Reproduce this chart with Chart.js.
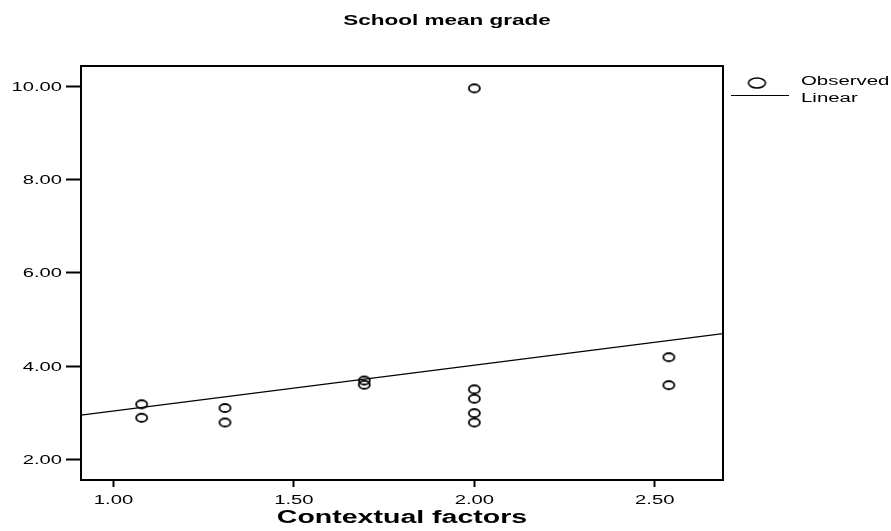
<!DOCTYPE html>
<html><head><meta charset="utf-8">
<script src="https://cdn.jsdelivr.net/npm/chart.js@4"></script>
<style>html,body{margin:0;padding:0;background:#fff;}#wrap{width:891px;height:531px;position:relative;}</style>
</head><body><div id="wrap"><canvas id="c" width="891" height="531"></canvas></div>
<script>
const chartTitle = "School mean grade";
const xTitle = "Contextual factors";
const contextual = [1.078, 1.078, 1.309, 1.309, 1.695, 1.695, 2.00, 2.00, 2.00, 2.00, 2.00, 2.539, 2.539];
const meanGrade  = [3.18, 2.89, 3.10, 2.79, 3.69, 3.60, 9.96, 3.50, 3.30, 2.99, 2.79, 4.19, 3.59];
const linearX = [0.910, 2.689];
const linearY = [2.946, 4.695];
const xTicks = [1.0, 1.5, 2.0, 2.5];
const yTicks = [2, 4, 6, 8, 10];
const legendLabels = ["Observed", "Linear"];

const FONT = "'Liberation Sans', Arial, sans-serif";

function ellipseImg(w, h, lw) {
  const c = document.createElement('canvas');
  c.width = w + 4; c.height = h + 4;
  const g = c.getContext('2d');
  g.strokeStyle = '#000'; g.lineWidth = lw;
  g.beginPath(); g.ellipse(c.width / 2, c.height / 2, w / 2, h / 2, 0, 0, Math.PI * 2); g.stroke();
  return c;
}
const ptImg = ellipseImg(11, 8, 1.8);
const legImg = ellipseImg(17, 10, 1.6);

function stretchText(ctx, text, x, y, align, font, sx) {
  ctx.save();
  ctx.font = font;
  ctx.textAlign = align;
  ctx.textBaseline = 'alphabetic';
  ctx.translate(x, y);
  ctx.scale(sx, 1);
  ctx.fillText(text, 0, 0);
  ctx.restore();
}

const framePlugin = {
  id: 'frame',
  afterDraw(chart) {
    const ctx = chart.ctx, a = chart.chartArea;
    const xs = chart.scales.x, ys = chart.scales.y;
    ctx.save();
    ctx.strokeStyle = '#000'; ctx.lineWidth = 2;
    ctx.beginPath();
    ctx.moveTo(a.left, a.top); ctx.lineTo(a.right, a.top); ctx.lineTo(a.right, a.bottom);
    ctx.stroke();
    ctx.fillStyle = '#000';
    // title
    stretchText(ctx, chartTitle, 447, 25, 'center', "bold 15px " + FONT, 1.5);
    // tick labels
    xTicks.forEach(v => {
      stretchText(ctx, v.toFixed(2), xs.getPixelForValue(v), 504, 'center', "12.5px " + FONT, 1.62);
    });
    yTicks.forEach(v => {
      stretchText(ctx, v.toFixed(2), 62, ys.getPixelForValue(v) + 4.5, 'right', "12px " + FONT, 1.68);
    });
    // axis title
    stretchText(ctx, xTitle, (a.left + a.right) / 2, 523, 'center', "bold 17.5px " + FONT, 1.63);
    // legend
    ctx.drawImage(legImg, 757 - legImg.width / 2, 83 - legImg.height / 2);
    ctx.lineWidth = 1.2;
    ctx.beginPath(); ctx.moveTo(731, 95.5); ctx.lineTo(789, 95.5); ctx.stroke();
    stretchText(ctx, legendLabels[0], 801, 85, 'left', "12px " + FONT, 1.7);
    stretchText(ctx, legendLabels[1], 801, 102, 'left', "12px " + FONT, 1.7);
    ctx.restore();
  }
};

new Chart(document.getElementById('c'), {
  type: 'scatter',
  data: {
    datasets: [
      {
        label: legendLabels[0],
        data: contextual.map((x, i) => ({x: x, y: meanGrade[i]})),
        pointStyle: ptImg,
        pointRadius: 6,
        showLine: false,
        order: 1
      },
      {
        label: legendLabels[1],
        type: 'line',
        data: linearX.map((x, i) => ({x: x, y: linearY[i]})),
        borderColor: '#000',
        borderWidth: 1.2,
        pointRadius: 0,
        fill: false,
        order: 2
      }
    ]
  },
  plugins: [framePlugin],
  options: {
    responsive: false,
    animation: false,
    events: [],
    layout: { padding: { left: 0, right: 168, top: 66, bottom: 0 } },
    plugins: { legend: { display: false }, title: { display: false }, tooltip: { enabled: false } },
    scales: {
      x: {
        type: 'linear',
        min: linearX[0], max: linearX[1],
        afterBuildTicks(s) { s.ticks = xTicks.map(v => ({value: v})); },
        afterFit(s) { s.height = 51; },
        grid: { display: true, drawOnChartArea: false, drawTicks: true, tickLength: 7, tickWidth: 2, color: '#000' },
        border: { display: true, color: '#000', width: 2 },
        ticks: { display: false },
        title: { display: false }
      },
      y: {
        type: 'linear',
        min: 1.555, max: 10.44,
        afterBuildTicks(s) { s.ticks = yTicks.map(v => ({value: v})); },
        afterFit(s) { s.width = 81; },
        grid: { display: true, drawOnChartArea: false, drawTicks: true, tickLength: 15, tickWidth: 2, color: '#000' },
        border: { display: true, color: '#000', width: 2 },
        ticks: { display: false }
      }
    }
  }
});
</script></body></html>
